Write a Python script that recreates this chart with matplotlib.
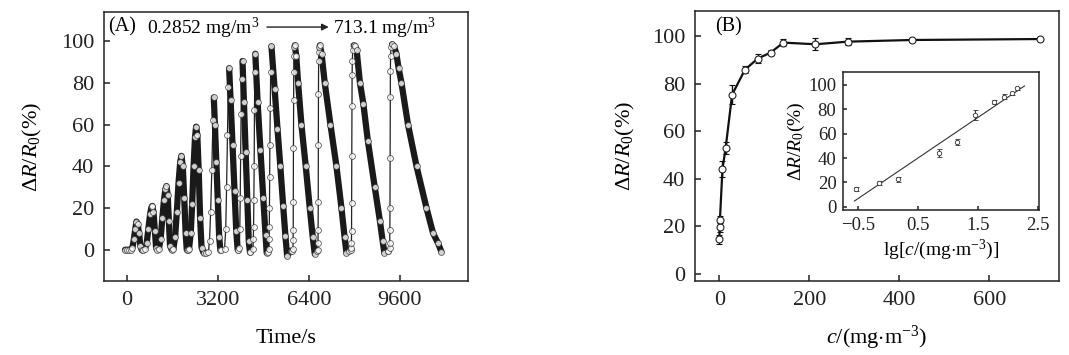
import numpy as np
import matplotlib
matplotlib.use('Agg')
import matplotlib.pyplot as plt

plt.rcParams['font.family'] = ['Liberation Serif', 'DejaVu Serif']
plt.rcParams['mathtext.fontset'] = 'custom'
plt.rcParams['mathtext.rm'] = 'Liberation Serif'
plt.rcParams['mathtext.it'] = 'Liberation Serif:italic'

# (A) response vs time, one list per exposure cycle
cycle_t = [
    [-60, 0, 80, 150, 200, 250, 300, 340, 380, 430, 480, 520, 580],
    [640, 700, 760, 820, 870, 900, 940, 990, 1030, 1080],
    [1130, 1190, 1250, 1310, 1360, 1395, 1440, 1480, 1520, 1580],
    [1640, 1700, 1760, 1820, 1880, 1920, 1970, 2020, 2070, 2110, 2160],
    [2190, 2250, 2300, 2350, 2400, 2440, 2480, 2530, 2580, 2630, 2700, 2800],
    [2870, 2910, 2950, 2990, 3030, 3060, 3100, 3150, 3200, 3250, 3290],
    [3330, 3440, 3480, 3510, 3540, 3570, 3600, 3650, 3720, 3790, 3850, 3900],
    [3920, 3960, 3975, 3990, 4005, 4020, 4040, 4070, 4120, 4180, 4240, 4290, 4330],
    [4350, 4440, 4450, 4460, 4470, 4480, 4490, 4505, 4520, 4600, 4700, 4800, 4880, 4920],
    [4960, 5000, 5006, 5012, 5018, 5024, 5032, 5045, 5060, 5088, 5200, 5300, 5400,
     5500, 5580, 5640, 5760],
    [5800, 5845, 5849, 5853, 5857, 5861, 5866, 5872, 5880, 5890, 5910, 5960, 6025,
     6142, 6294, 6435, 6540, 6611, 6700],
    [6720, 6725, 6729, 6733, 6737, 6741, 6747, 6755, 6765, 6790, 6850, 6962, 7163,
     7374, 7550, 7660, 7726, 7830],
    [7880, 7897, 7901, 7905, 7909, 7913, 7918, 7924, 7932, 7945, 7980, 8030, 8080,
     8200, 8320, 8480, 8720, 8900, 9000, 9060, 9180],
    [9200, 9244, 9248, 9252, 9256, 9260, 9265, 9270, 9278, 9290, 9330, 9400, 9480,
     9560, 9660, 9890, 10190, 10540, 10770, 10950, 11065],
]
cycle_v = [
    [0, 0, 0, 0, 1, 5, 10, 13.5, 12.5, 8, 2, 0, 0],
    [0.5, 3, 10, 17, 20.5, 21, 18, 9, 1, 0],
    [0.5, 5, 15, 24, 29, 30.5, 26, 14, 2, 0],
    [0.5, 6, 18, 32, 42, 45, 40, 25, 8, 0, 0],
    [0.5, 8, 22, 40, 54, 59, 55, 38, 15, 1, -1.5, -1.5],
    [-1, 4, 18, 38, 62, 73, 60, 42, 24, 6, 0],
    [0, 0.5, 10, 30, 55, 78, 87, 72, 50, 28, 9, 0],
    [0, 1, 10, 25, 45, 65, 82, 90.5, 71, 47, 24, 4, -1],
    [-1, 0.5, 5, 11, 24, 40, 67, 85, 94, 71, 48, 25, 7, -1.5],
    [-1, 0.5, 5, 11, 20, 35, 50, 68, 85, 97.5, 77, 58, 40, 21, 6.5, -3, -0.5],
    [-0.5, 0.5, 4.8, 9.6, 23, 49, 72, 85, 93, 97, 98, 93, 80, 60, 40, 20, 6, -2, -0.5],
    [0, 3.2, 9.6, 23, 50, 74.5, 90.5, 95, 97, 98, 94, 80, 60, 40, 20, 6, -1.5, -0.5],
    [0, 0.8, 3.2, 8.8, 22.4, 44.9, 68.9, 84, 90.5, 96, 98, 97.5, 96, 80, 70, 52, 30,
     14, 4, -1.5, -0.5],
    [-0.5, 0.8, 3.2, 9.6, 20, 44, 73, 85.7, 93, 97, 98.5, 97.5, 94, 87, 80, 60, 40,
     20, 8, 3, -1],
]
n_slow_rise = 5  # first cycles rise slowly, drawn as dense band

# (B) response vs concentration
conc = [0.2852, 0.7130, 1.426, 7.130, 14.26, 28.52, 57.04, 85.56, 114.1, 142.6,
        213.9, 285.2, 427.9, 713.1]
resp = [14.5, 19.5, 22.5, 44.0, 53.0, 75.3, 85.8, 90.5, 93.0, 97.2, 96.5, 97.6,
        98.3, 98.7]
resp_err = [2.0, 2.0, 2.0, 3.5, 2.5, 4.0, 1.5, 2.0, 1.0, 1.5, 2.5, 1.5, 1.0, 0.8]
n_inset = 10

ylab = r'$\Delta R/R_0$(%)'

fig = plt.figure(figsize=(10.69, 3.55), dpi=100)
axA = fig.add_axes([0.0973, 0.2085, 0.3405, 0.7577])
axB = fig.add_axes([0.6501, 0.2085, 0.3405, 0.7606])
axI = fig.add_axes([0.7889, 0.4085, 0.1833, 0.3878])

for ax in (axA, axB, axI):
    for s in ax.spines.values():
        s.set_linewidth(1.1)
        s.set_color('#222222')
    ax.tick_params(direction='in', length=4, width=1.1, top=False, right=False,
                   colors='#222222', labelcolor='#222222')

# ---- panel A
all_t = np.concatenate([np.array(t, float) for t in cycle_t])
all_v = np.concatenate([np.array(v, float) for v in cycle_v])
axA.plot(all_t, all_v, '-', color='#222222', lw=0.9, zorder=2)
for i, (t, v) in enumerate(zip(cycle_t, cycle_v)):
    t = np.array(t, float)
    v = np.array(v, float)
    k = int(np.argmax(v))
    start = 0 if i < n_slow_rise else k
    axA.plot(t[start:], v[start:], '-', color='#1a1a1a', lw=4.5,
             solid_capstyle='round', solid_joinstyle='round', zorder=3)
axA.plot(all_t, all_v, 'o', ms=4.2, mfc='white', mec='#333333', mew=0.6,
         alpha=0.8, zorder=4)

axA.set_xlim(-800, 12000)
axA.set_ylim(-15, 114)
axA.set_xticks([0, 3200, 6400, 9600])
axA.set_yticks([0, 20, 40, 60, 80, 100])
axA.tick_params(labelsize=16, pad=7)
axA.set_xlabel('Time/s', fontsize=16, labelpad=14)
axA.set_ylabel(ylab, fontsize=16, labelpad=12)
axA.text(0.012, 0.944, '(A)', transform=axA.transAxes, fontsize=14.5, va='center')
axA.text(0.118, 0.94, r'0.2852 mg/m$^3$', transform=axA.transAxes, fontsize=14,
         va='center')
axA.annotate('', xy=(0.625, 0.944), xytext=(0.44, 0.944), xycoords='axes fraction',
             arrowprops=dict(arrowstyle='-|>', color='#222222', lw=1.0,
                             mutation_scale=10))
axA.text(0.628, 0.94, r'713.1 mg/m$^3$', transform=axA.transAxes, fontsize=14,
         va='center')

# ---- panel B
axB.errorbar(conc, resp, yerr=resp_err, fmt='-o', color='#111111', lw=1.6,
             ms=5, mfc='white', mec='#222222', mew=0.8, capsize=2.5,
             elinewidth=1.0, capthick=1.0, zorder=3)
axB.set_xlim(-54, 755)
axB.set_ylim(-3, 110.5)
axB.set_xticks([0, 200, 400, 600])
axB.set_yticks([0, 20, 40, 60, 80, 100])
axB.tick_params(labelsize=16, pad=7)
axB.set_xlabel(r'$c$/(mg$\cdot$m$^{-3}$)', fontsize=16, labelpad=10)
axB.set_ylabel(ylab, fontsize=16, labelpad=11)
axB.text(0.055, 0.942, '(B)', transform=axB.transAxes, fontsize=14.5, va='center')

# ---- inset
lg = np.log10(conc[:n_inset])
ri = np.array(resp[:n_inset])
ei = np.array(resp_err[:n_inset])
slope, icpt = np.polyfit(lg, ri, 1)
xf = np.array([lg.min() - 0.02, lg.max() + 0.12])
axI.plot(xf, slope * xf + icpt, '-', color='#333333', lw=0.8, zorder=2)
axI.errorbar(lg, ri, yerr=ei, fmt='o', ms=3.2, mfc='white', mec='#333333',
             mew=0.6, ecolor='#333333', elinewidth=0.8, capsize=1.8,
             capthick=0.8, zorder=3)
axI.set_xlim(-0.75, 2.52)
axI.set_ylim(-2.7, 110.4)
axI.set_xticks([-0.5, 0.5, 1.5, 2.5])
axI.set_yticks([0, 20, 40, 60, 80, 100])
axI.tick_params(labelsize=13.5, pad=5, length=3)
axI.set_xlabel(r'lg[$c$/(mg$\cdot$m$^{-3}$)]', fontsize=14, labelpad=3)
axI.set_ylabel(ylab, fontsize=14, labelpad=1)

fig.savefig('out.png', dpi=100)
